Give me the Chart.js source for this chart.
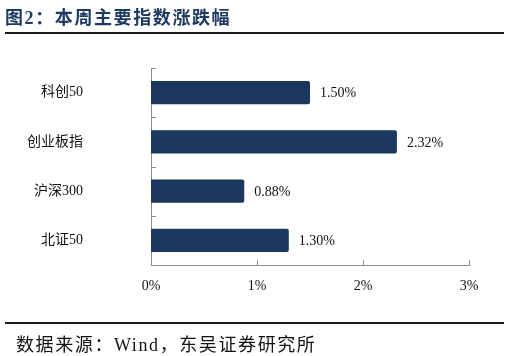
<!DOCTYPE html>
<html>
<head>
<meta charset="utf-8">
<script src="https://cdn.jsdelivr.net/npm/chart.js@4/dist/chart.umd.min.js"></script>
<style>
  html, body { margin:0; padding:0; background:#fff; width:510px; height:356px; overflow:hidden; }
  #wrap { position:relative; width:510px; height:356px; }
  canvas { position:absolute; left:0; top:0; }
  .title { position:absolute; left:5px; top:3px; font-family:"Liberation Serif","Noto Sans CJK SC",serif; font-weight:bold; font-size:18px; letter-spacing:1.6px; color:#1f3a60; white-space:nowrap; }
  .rule { position:absolute; left:5px; width:499px; height:2px; background:#1a1a1a; }
  .source { position:absolute; left:16px; top:330px; font-family:"Liberation Serif","Noto Sans CJK SC",serif; font-size:18px; letter-spacing:1.6px; color:#111; white-space:nowrap; }
</style>
</head>
<body>
<div id="wrap">
  <canvas id="c" width="510" height="356"></canvas>
  <div class="title">图2：本周主要指数涨跌幅</div>
  <div class="rule" style="top:32px"></div>
  <div class="rule" style="top:322px"></div>
  <div class="source">数据来源：Wind，东吴证券研究所</div>
</div>
<script>
const categories = ["科创50", "创业板指", "沪深300", "北证50"];
const changes = [1.50, 2.32, 0.88, 1.30];
const tickValues = [0, 1, 2, 3];

const FONT = '"Liberation Serif", "Noto Sans CJK SC", serif';
const AXIS = '#8c8c8c';

const inwardTicks = {
  id: 'inwardTicks',
  afterDraw(chart) {
    const ctx = chart.ctx, a = chart.chartArea;
    const xs = chart.scales.x, ys = chart.scales.y;
    ctx.save();
    ctx.strokeStyle = AXIS;
    ctx.lineWidth = 1;
    ctx.beginPath();
    const n = ys.ticks.length;
    for (let i = 0; i <= n; i++) {
      const y = Math.round(a.top + i * (a.bottom - a.top) / n) + 0.5;
      ctx.moveTo(a.left, y); ctx.lineTo(a.left + 5, y);
    }
    tickValues.forEach(v => {
      const x = Math.round(xs.getPixelForValue(v)) + 0.5;
      ctx.moveTo(x, a.bottom); ctx.lineTo(x, a.bottom - 5);
    });
    ctx.stroke();
    ctx.restore();
  }
};

const valueLabels = {
  id: 'valueLabels',
  afterDatasetsDraw(chart) {
    const ctx = chart.ctx;
    const meta = chart.getDatasetMeta(0);
    ctx.save();
    ctx.font = '14px ' + FONT;
    ctx.fillStyle = '#111';
    ctx.textAlign = 'left';
    ctx.textBaseline = 'middle';
    meta.data.forEach((bar, i) => {
      ctx.fillText(changes[i].toFixed(2) + '%', bar.x + 10, bar.y + 1);
    });
    ctx.restore();
  }
};

new Chart(document.getElementById('c'), {
  type: 'bar',
  data: {
    labels: categories,
    datasets: [{
      data: changes,
      backgroundColor: '#1b375d',
      borderRadius: 2,
      borderSkipped: 'start',
      barPercentage: 0.47,
      categoryPercentage: 1.0
    }]
  },
  options: {
    indexAxis: 'y',
    responsive: false,
    animation: false,
    devicePixelRatio: 1,
    layout: { padding: { top: 68, right: 41, left: 0, bottom: 51 } },
    plugins: { legend: { display: false }, tooltip: { enabled: false }, title: { display: false } },
    scales: {
      x: {
        type: 'linear',
        min: 0, max: 3,
        afterBuildTicks(scale) { scale.ticks = tickValues.map(v => ({ value: v })); },
        afterFit(scale) { scale.height = 40; scale.paddingLeft = 0; scale.paddingRight = 0; },
        grid: { display: false, drawTicks: false },
        border: { display: true, color: AXIS, width: 1 },
        ticks: {
          padding: 13,
          color: '#111',
          font: { family: FONT, size: 14 },
          callback: v => v + '%'
        }
      },
      y: {
        afterFit(scale) { scale.width = 151; scale.paddingTop = 0; scale.paddingBottom = 0; },
        grid: { display: false, drawTicks: false },
        border: { display: true, color: AXIS, width: 1 },
        ticks: {
          padding: 68,
          color: '#111',
          font: { family: FONT, size: 14 }
        }
      }
    }
  },
  plugins: [inwardTicks, valueLabels]
});
</script>
</body>
</html>
